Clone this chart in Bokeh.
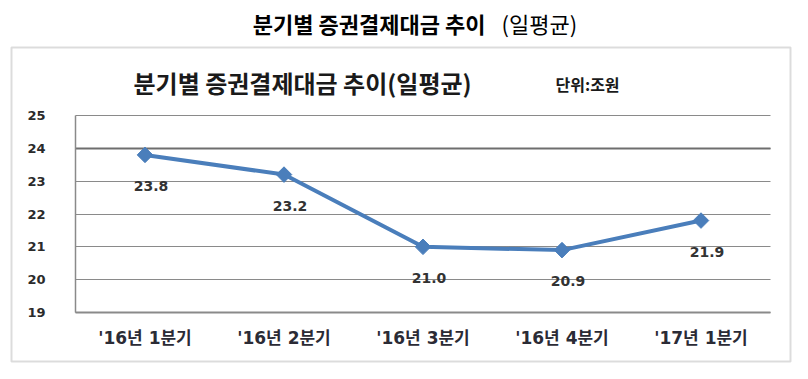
from bokeh.plotting import figure
from bokeh.models import Range1d, FixedTicker, Label, BoxAnnotation, LinearAxis, Grid
from bokeh.core.properties import value
from bokeh.embed import file_html
from bokeh.resources import INLINE

# ---- data ----
categories = ["'16년 1분기", "'16년 2분기", "'16년 3분기", "'16년 4분기", "'17년 1분기"]
settlement = [23.8, 23.2, 21.0, 20.9, 21.8]
label_values = [23.8, 23.2, 21.0, 20.9, 21.9]
y_ticks = [19, 20, 21, 22, 23, 24, 25]

title_main = "분기별 증권결제대금 추이"
title_sub = "(일평균)"
inner_title = "분기별 증권결제대금 추이(일평균)"
unit_text = "단위:조원"

# ---- layout constants (pixels) ----
W, H = 792, 363
PLOT_L, PLOT_R, PLOT_T, PLOT_B = 75, 770, 115, 312

KR = "Noto Sans CJK KR"
NUM = "DejaVu Sans"
LINE_BLUE = "#4A7EBB"
GRID = "#8a8a8a"

n = len(categories)
x_idx = list(range(n))
ymin, ymax = y_ticks[0], y_ticks[-1]
px_per_cat = (PLOT_R - PLOT_L) / n
px_per_unit = (PLOT_B - PLOT_T) / (ymax - ymin)
x0 = -0.5 - PLOT_L / px_per_cat
x1 = n - 0.5 + (W - PLOT_R) / px_per_cat
y1 = ymax + PLOT_T / px_per_unit
y0 = ymin - (H - PLOT_B) / px_per_unit

p = figure(width=W, height=H, x_range=Range1d(x0, x1), y_range=Range1d(y0, y1),
           output_backend="svg", toolbar_location=None,
           x_axis_location=None, y_axis_location=None,
           min_border=0)
p.outline_line_color = None
p.background_fill_color = "white"
p.border_fill_color = "white"
p.grid.visible = False

# horizontal grid lines across the plot area only
p.add_layout(Grid(dimension=1, ticker=FixedTicker(ticks=y_ticks), bounds=(ymin, ymax),
                  cross_bounds=(-0.5, n - 0.5),
                  grid_line_color=GRID, grid_line_width=1.2))
# the second line from the top is drawn darker in the original
p.add_layout(Grid(dimension=1, ticker=FixedTicker(ticks=[y_ticks[-2]]), bounds=(ymin, ymax),
                  cross_bounds=(-0.5, n - 0.5),
                  grid_line_color="#6e6e6e", grid_line_width=2.2))

# y axis (drawn at left edge of plot area)
yax = LinearAxis(ticker=FixedTicker(ticks=y_ticks), fixed_location=-0.5, bounds=(ymin, ymax))
yax.major_tick_in = 0
yax.major_tick_out = 0
yax.major_tick_line_color = None
yax.minor_tick_line_color = None
yax.axis_line_color = GRID
yax.axis_line_width = 1.5
yax.major_label_standoff = -48
yax.major_label_text_font = NUM
yax.major_label_text_font_style = "bold"
yax.major_label_text_font_size = "13px"
yax.major_label_text_color = "#2b2b2b"
p.add_layout(yax, "right")

# x axis (drawn at bottom of plot area)
xax = LinearAxis(ticker=FixedTicker(ticks=x_idx), fixed_location=ymin, bounds=(-0.5, n - 0.5),
                 major_label_overrides={i: c for i, c in enumerate(categories)})
xax.major_tick_in = 0
xax.major_tick_out = 0
xax.major_tick_line_color = None
xax.minor_tick_line_color = None
xax.axis_line_color = GRID
xax.axis_line_width = 2
xax.major_label_standoff = -35
xax.major_label_text_font = f"{NUM}, {KR}"
xax.major_label_text_font_style = "bold"
xax.major_label_text_font_size = "17px"
xax.major_label_text_color = "#2b2b35"
p.add_layout(xax, "above")

# series
p.line(x_idx, settlement, line_color=LINE_BLUE, line_width=4)
p.scatter(x_idx, settlement, marker="square", angle=0.785398, size=11,
          fill_color=LINE_BLUE, line_color=LINE_BLUE)
p.text(x_idx, settlement, text=[f"{v:.1f}" for v in label_values],
       text_font=value(NUM), text_font_style="bold", text_font_size="14px",
       text_color="#333333", text_align="center", text_baseline="middle",
       x_offset=6, y_offset=31)

# surrounding box
p.add_layout(BoxAnnotation(left=11, right=790, top=H - 47, bottom=H - 361,
                           left_units="screen", right_units="screen",
                           top_units="screen", bottom_units="screen",
                           fill_alpha=0, line_color="#8c8c8c", line_width=2))

# titles
p.add_layout(Label(x=485, y=H - 22, x_units="screen", y_units="screen", text=title_main,
                   text_font=KR, text_font_style="bold", text_font_size="22px",
                   text_color="#000000", text_align="right", text_baseline="middle"))
p.add_layout(Label(x=501, y=H - 22, x_units="screen", y_units="screen", text=title_sub,
                   text_font=KR, text_font_style="normal", text_font_size="22px",
                   text_color="#000000", text_align="left", text_baseline="middle"))
p.add_layout(Label(x=133, y=H - 82, x_units="screen", y_units="screen", text=inner_title,
                   text_font=KR, text_font_style="bold", text_font_size="24px",
                   text_color="#1a1a1a", text_align="left", text_baseline="middle"))
p.add_layout(Label(x=555, y=H - 83, x_units="screen", y_units="screen", text=unit_text,
                   text_font=KR, text_font_style="bold", text_font_size="16px",
                   text_color="#1a1a1a", text_align="left", text_baseline="middle"))

open("out.html", "w").write(file_html(p, INLINE))
